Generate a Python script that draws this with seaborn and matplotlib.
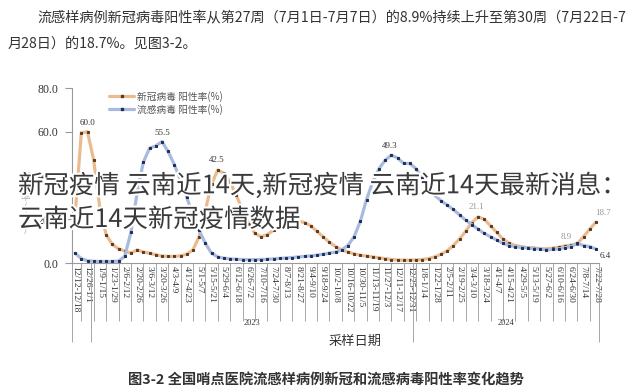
import matplotlib
matplotlib.use('Agg')
import matplotlib.pyplot as plt
import matplotlib.patheffects as pe
from matplotlib.lines import Line2D
import pandas as pd
import seaborn as sns

# ---------------- data ----------------
weeks = list(range(85))

covid = [22, 59.5, 60.0, 47, 25, 13, 8.5, 6.5, 5.5, 4.5,
         6, 5, 4.5, 3.8, 3.2, 3, 3, 3.3, 4, 6,
         12, 24, 36, 42.5, 41, 37, 31, 24, 18, 13.5,
         12, 13, 15, 17, 18.5, 19.6, 19.2, 18.5, 17, 14.5,
         12, 9.5, 7.5, 6, 5, 4.2, 3.6, 3.2, 2.8, 2.4,
         2.0, 1.6, 1.4, 1.3, 1.3, 1.4, 1.6, 2.0, 2.8, 4,
         5.5, 8, 11, 14.5, 18.5, 21.1, 20, 17, 14, 11,
         9, 8, 7.5, 7, 7, 6.5, 6.5, 6.8, 7.2, 7.8,
         8.2, 8.9, 12, 15.5, 18.7]

flu = [4.5, 2, 1, 0.8, 0.7, 0.7, 0.7, 0.9, 3, 14,
       32, 46, 52.5, 53.5, 55.5, 51, 45, 38, 30, 22,
       15, 9, 4.5, 2.8, 2.2, 1.9, 1.7, 1.6, 1.5, 1.5,
       1.6, 1.7, 1.9, 2.1, 2.3, 2.5, 2.8, 3, 3.3, 3.6,
       4, 4.5, 5, 6, 8, 12, 19, 29, 37, 43,
       47, 49.3, 48, 45.5, 45.5, 43, 39, 35, 31, 28.5,
       26.5, 24.5, 22, 19.6, 17.5, 15.5, 13.5, 12, 10.5, 9,
       8, 7.5, 7, 7, 6.5, 6.5, 6, 6.2, 6.5, 7,
       7.5, 9, 8, 7.5, 6.4]

tick_labels = ['12/12-12/18', '12/26-1/1', '1/9-1/15', '1/23-1/29', '2/6-2/12',
               '2/20-2/26', '3/6-3/12', '3/20-3/26', '4/3-4/9', '4/17-4/23',
               '5/1-5/7', '5/15-5/21', '5/29-6/4', '6/12-6/18', '6/26-7/2',
               '7/10-7/16', '7/24-7/30', '8/7-8/13', '8/21-8/27', '9/4-9/10',
               '9/18-9/24', '10/2-10/8', '10/16-10/22', '10/30-11/5', '11/13-11/19',
               '11/27-12/3', '12/11-12/17', '12/25-12/31', '1/8-1/14', '1/22-1/28',
               '2/5-2/11', '2/19-2/25', '3/4-3/10', '3/18-3/24', '4/1-4/7',
               '4/15-4/21', '4/29-5/5', '5/13-5/19', '5/27-6/2', '6/10-6/16',
               '6/24-6/30', '7/8-7/14', '7/22-7/28']

years = ['2023', '2024']
year_bounds = [-0.5, 2.5, 54.5, 84.5]
series_names = ['新冠病毒 阳性率(%)', '流感病毒 阳性率(%)']
yticks = [0, 20, 40, 60, 80]

# ---------------- style ----------------
sns.set_theme(style='white')
plt.rcParams['font.family'] = ['Noto Sans CJK SC', 'DejaVu Sans']
plt.rcParams['axes.unicode_minus'] = False

orange, orange_mk = '#ebbb8e', '#5a3b26'
blue, blue_mk = '#a9bbdd', '#1f2e5a'
serif = 'Liberation Serif'

fig = plt.figure(figsize=(6.44, 3.91), dpi=100)
fig.patch.set_facecolor('white')
ax = fig.add_axes([72 / 644, 1 - 263 / 391, 527 / 644, 175 / 391])

df_c = pd.DataFrame({'week': weeks, 'value': covid})
df_f = pd.DataFrame({'week': weeks, 'value': flu})

sns.lineplot(data=df_c, x='week', y='value', ax=ax, color=orange, lw=2.3,
             marker='s', markersize=1.7, markerfacecolor=orange_mk,
             markeredgecolor=orange_mk, zorder=3)
sns.lineplot(data=df_f, x='week', y='value', ax=ax, color=blue, lw=2.3,
             marker='s', markersize=1.7, markerfacecolor=blue_mk,
             markeredgecolor=blue_mk, zorder=4)

ax.set_xlim(-0.5, 84.5)
ax.set_ylim(0, 80)
ax.set_xlabel('')
ax.set_ylabel('')

for s in ['top', 'right']:
    ax.spines[s].set_visible(False)
for s in ['left', 'bottom']:
    ax.spines[s].set_color('#9a9a9a')
    ax.spines[s].set_linewidth(0.8)

ax.set_yticks(yticks)
ax.set_yticklabels([f'{v:.1f}' for v in yticks], fontfamily=serif, fontsize=8.5, color='#333')
ax.tick_params(axis='y', direction='out', length=5, width=0.8, color='#9a9a9a', pad=5, left=True)

ax.set_xticks(weeks[::2])
ax.set_xticklabels(tick_labels, rotation=270, fontfamily=serif, fontsize=6.8, color='#333')
ax.tick_params(axis='x', length=0, pad=2.5, bottom=True)

xt = ax.get_xaxis_transform()
ax.vlines(weeks[1::2], 0, -0.33, transform=xt, clip_on=False, color='#999', lw=0.6)
ax.vlines(year_bounds, 0, -0.45, transform=xt, clip_on=False, color='#999', lw=0.6)
for k, yr in enumerate(years):
    ax.text((year_bounds[k + 1] + year_bounds[k + 2]) / 2, -0.343, yr, transform=xt,
            ha='center', va='center', fontsize=6, fontfamily=serif, color='#333')

# data labels
ann = [(2, covid, 0, 9, '#333'), (14, flu, 0, 9, '#333'), (23, covid, -1, 10, '#333'),
       (35, covid, 0, 9, '#999'), (51, flu, -2, 9, '#333'), (65, covid, -2, 10, '#999'),
       (81, covid, -11, 7, '#999'), (84, covid, 7, 9, '#999'), (84, flu, 9, -7, '#333')]
for i, arr, dx, dy, col in ann:
    v = arr[i]
    ax.annotate(f'{v:.1f}', (weeks[i], v), xytext=(dx, dy), textcoords='offset pixels',
                ha='center', va='center', fontsize=6.5, fontfamily=serif, color=col,
                annotation_clip=False)

# legend
handles = [Line2D([0], [0], color=orange, lw=2.3, marker='s', ms=1.7,
                  mfc=orange_mk, mec=orange_mk),
           Line2D([0], [0], color=blue, lw=2.3, marker='s', ms=1.7,
                  mfc=blue_mk, mec=blue_mk)]
leg = fig.legend(handles, series_names, loc='upper left',
                 bbox_to_anchor=(104 / 644, 1 - 86 / 391), frameon=False, fontsize=7,
                 handlelength=2.6, labelspacing=0.2, handletextpad=0.3, borderpad=0)
for t in leg.get_texts():
    t.set_color('#555')

# y axis title (stacked)
fig.text(25 / 644, 1 - 203 / 391, '阳\n性\n率\n(\n%\n)', ha='center', va='center',
         fontsize=7, color='#b0b0b0', linespacing=1.0)

# axis title & captions
fig.text(355 / 644, 1 - 341 / 391, '采样日期', ha='center', va='center', fontsize=9.5, color='#333')
fig.text(326 / 644, 1 - 380 / 391, '图3-2 全国哨点医院流感样病例新冠和流感病毒阳性率变化趋势',
         ha='center', va='center', fontsize=10.3, fontweight='bold', color='#333')

fig.text(37 / 644, 1 - 18 / 391,
         '流感样病例新冠病毒阳性率从第27周（7月1日-7月7日）的8.9%持续上升至第30周（7月22日-7',
         ha='left', va='center', fontsize=10.2, color='#333')
fig.text(8 / 644, 1 - 44 / 391, '月28日）的18.7%。见图3-2。',
         ha='left', va='center', fontsize=10.2, color='#333')

# overlay title
halo = [pe.withStroke(linewidth=3, foreground='white')]
fig.text(18 / 644, 1 - 186 / 391, '新冠疫情 云南近14天,新冠疫情 云南近14天最新消息：',
         ha='left', va='center', fontsize=18.3, color='#3a3a3a', fontweight='light',
         path_effects=halo, zorder=10)
fig.text(18 / 644, 1 - 220 / 391, '云南近14天新冠疫情数据',
         ha='left', va='center', fontsize=18.3, color='#3a3a3a', fontweight='light',
         path_effects=halo, zorder=10)

fig.savefig('out.png', dpi=100)
